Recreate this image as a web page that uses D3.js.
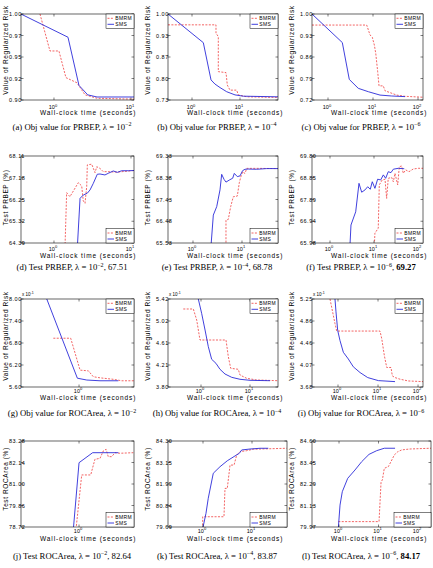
<!DOCTYPE html>
<html>
<head>
<meta charset="utf-8">
<script src="https://cdn.jsdelivr.net/npm/d3@7/dist/d3.min.js"></script>
<style>
body { margin: 0; background: #fff; }
svg { display: block; }
text { font-family: "Liberation Sans", Arial, sans-serif; fill: #000; }
.cap { font-family: "Liberation Serif", "Times New Roman", serif; }
</style>
</head>
<body>
<div id="chart"></div>
<script>
// ---- data: [time (s), value] ----
const smsA  = [[0.372,1.000],[1.52,0.973],[2.11,0.917],[2.74,0.906],[3.62,0.9035],[10.94,0.9035]];
const bmrmA = [[0.658,1.000],[0.887,0.957],[1.16,0.957],[1.43,0.926],[1.99,0.920],[2.53,0.906],[3.62,0.902],[10.94,0.901]];

const smsB  = [[0.316,1.000],[1.72,0.910],[2.49,0.793],[3.01,0.780],[3.83,0.769],[5.28,0.756],[7.87,0.746],[11.7,0.742],[61.9,0.740]];
const bmrmB = [[0.316,0.966],[3.16,0.966],[3.16,0.940],[3.53,0.929],[3.53,0.819],[5.11,0.816],[5.44,0.777],[6.19,0.761],[8.53,0.761],[9.22,0.746],[13.8,0.740],[61.9,0.738]];

const smsC  = [[0.441,1.000],[2.08,0.907],[2.97,0.787],[4.71,0.758],[7.87,0.747],[14.3,0.736],[26.0,0.733],[51.4,0.731]];
const bmrmC = [[0.441,0.964],[7.24,0.964],[8.58,0.932],[9.65,0.924],[10.7,0.899],[11.5,0.872],[12.7,0.812],[13.6,0.766],[16.9,0.766],[18.5,0.750],[23.9,0.744],[33.6,0.736],[51.4,0.732],[129,0.729]];

const smsD  = [[2.01,64.2],[2.18,66.30],[2.40,66.44],[2.71,66.52],[2.94,66.66],[3.24,66.94],[3.65,67.33],[3.96,67.34],[4.59,67.30],[5.07,67.37],[5.89,67.47],[6.64,67.41],[7.57,67.48],[9.22,67.48],[10.94,67.49]];
const bmrmD = [[1.39,64.2],[1.46,66.54],[1.61,66.37],[1.82,66.66],[2.07,66.97],[2.29,66.83],[2.40,66.19],[2.53,66.09],[2.66,66.80],[2.71,67.73],[3.09,67.76],[3.41,67.40],[3.59,67.65],[3.96,67.58],[4.37,67.44],[4.83,67.44],[6.64,67.42],[10.94,67.49]];

const smsE  = [[2.33,65.4],[2.60,66.75],[3.05,67.12],[3.56,67.85],[3.85,68.53],[4.30,68.31],[4.71,68.19],[5.51,68.28],[6.46,68.36],[6.97,68.57],[8.02,68.43],[9.10,68.46],[10.3,68.69],[11.5,68.75],[13.4,68.76],[19.9,68.75],[31.9,68.78],[54.3,68.78]];
const bmrmE = [[4.71,65.4],[4.71,66.53],[5.25,66.56],[5.88,67.12],[6.64,67.55],[8.02,67.58],[8.81,68.16],[9.40,68.40],[10.3,68.64],[11.5,68.57],[12.5,68.79],[14.6,68.79],[19.9,68.79],[54.3,68.78]];

const smsF  = [[2.85,65.9],[3.00,66.77],[3.84,67.35],[4.56,68.60],[5.25,68.21],[6.24,68.31],[7.19,68.45],[8.24,68.34],[9.15,68.67],[10.5,68.38],[12.1,68.78],[14.2,68.75],[16.3,68.97],[18.4,68.82],[21.1,69.11],[24.3,69.07],[27.5,69.22],[35.7,69.26],[48.8,69.24]];
const bmrmF = [[10.2,65.9],[10.5,66.41],[12.5,66.63],[13.2,68.53],[15.4,68.75],[17.8,68.78],[19.4,67.94],[21.1,68.82],[25.2,68.86],[27.5,68.67],[30.0,69.04],[34.6,68.53],[37.6,69.33],[42.6,69.36],[46.3,69.04],[52.5,69.19],[62.4,69.11],[78.2,69.23],[102,69.26],[130,69.26]];

const smsG  = [[0.395,8.00],[0.953,5.84],[1.25,5.79],[1.83,5.77],[3.10,5.77]];
const bmrmG = [[0.477,6.93],[0.787,6.93],[1.03,6.06],[1.31,6.04],[1.51,5.88],[1.83,5.85],[2.68,5.81],[3.42,5.77],[4.87,5.77]];

const smsH  = [[0.881,5.42],[1.03,5.157],[1.21,4.849],[1.41,4.542],[1.65,4.310],[2.02,4.236],[2.44,4.126],[3.09,4.039],[4.24,3.978],[6.25,3.942],[10.0,3.923],[25.6,3.916]];
const bmrmH = [[0.435,5.236],[0.697,5.236],[0.817,5.033],[0.954,4.665],[3.24,4.665],[3.61,4.358],[4.04,4.144],[5.77,4.126],[6.25,4.021],[8.57,3.960],[13.7,3.929],[37.3,3.916]];

const smsI  = [[0.841,5.25],[0.891,5.021],[0.982,4.691],[1.12,4.510],[1.36,4.299],[1.81,4.180],[2.41,4.041],[3.55,3.938],[5.53,3.848],[10.2,3.794],[26.6,3.776]];
const bmrmI = [[0.631,5.25],[0.841,4.811],[0.928,4.678],[11.2,4.678],[12.4,4.541],[14.4,4.239],[16.5,4.028],[21.1,4.028],[22.8,3.878],[26.6,3.848],[35.5,3.819],[57.2,3.788],[133,3.776]];

const smsJ  = [[0.849,78.6],[1.0,82.13],[1.48,82.66],[3.10,82.66]];
const bmrmJ = [[0.917,78.6],[1.08,81.48],[1.40,81.48],[1.58,82.31],[1.83,82.36],[2.01,82.75],[2.18,82.84],[2.32,82.45],[2.56,82.45],[2.82,82.66],[3.25,82.63],[4.77,82.66]];

const smsK  = [[0.986,79.6],[1.15,80.42],[1.28,81.23],[1.62,82.57],[2.22,82.92],[3.13,83.24],[4.50,83.50],[5.51,83.64],[6.17,83.82],[9.10,83.87],[14.6,83.91],[21.5,83.91]];
const bmrmK = [[0.986,79.6],[0.986,80.24],[2.68,80.24],[2.81,81.76],[3.13,81.76],[3.56,83.01],[4.30,83.01],[4.87,83.55],[5.69,83.73],[7.80,83.78],[10.6,83.86],[51.1,83.91]];

const smsL  = [[0.960,79.9],[1.06,81.15],[1.21,81.87],[1.66,82.59],[2.54,83.04],[3.76,83.49],[5.75,83.88],[9.00,84.08],[14.0,84.21],[26.2,84.21]];
const bmrmL = [[0.960,80.26],[10.3,80.26],[11.6,82.41],[12.5,82.50],[14.0,83.13],[17.7,83.22],[20.7,83.49],[25.1,83.85],[30.6,84.02],[38.6,84.12],[62.7,84.17],[213,84.21]];

// axis ranges and tick labels
const xDomains = [[0.373,10.94],[0.316,61.9],[0.441,129],[0.373,10.94],[0.309,54.3],[0.390,130],
                  [0.188,4.87],[0.212,37.3],[0.224,133],[0.188,4.87],[0.193,51.8],[0.207,213]];
const yDomains = [[0.90,1.00],[0.73,1.00],[0.72,1.00],[64.39,68.11],[65.53,69.33],[65.98,69.80],
                  [5.60,8.00],[3.80,5.42],[3.68,5.25],[78.72,83.28],[79.69,84.30],[79.97,84.60]];
const yTickLabels = [
  ["1.00","0.97","0.95","0.92","0.90"],
  ["1.00","0.93","0.87","0.80","0.73"],
  ["1.00","0.93","0.86","0.79","0.72"],
  ["68.11","67.18","66.25","65.32","64.39"],
  ["69.33","68.38","67.43","66.48","65.53"],
  ["69.80","68.85","67.89","66.94","65.98"],
  ["8.00","7.40","6.80","6.20","5.60"],
  ["5.42","5.02","4.61","4.21","3.80"],
  ["5.25","4.86","4.46","4.07","3.68"],
  ["83.28","82.14","81.00","79.86","78.72"],
  ["84.30","83.15","81.99","80.84","79.69"],
  ["84.60","83.45","82.29","81.13","79.97"]
];
const letters = ["a","b","c","d","e","f","g","h","i","j","k","l"];
const lambdaExp = ["−2","−4","−6"];
const captionText = ["Obj value for PRBEP","Test PRBEP","Obj value for ROCArea","Test ROCArea"];
const yTitles = ["Value of Regularized Risk","Test PRBEP (%)","Value of Regularized Risk","Test ROCArea (%)"];
const scores = [null, ["67.51","68.78","69.27"], null, ["82.64","83.87","84.17"]];
const seriesNames = ["BMRM","SMS"];
const smsData  = [smsA,smsB,smsC,smsD,smsE,smsF,smsG,smsH,smsI,smsJ,smsK,smsL];
const bmrmData = [bmrmA,bmrmB,bmrmC,bmrmD,bmrmE,bmrmF,bmrmG,bmrmH,bmrmI,bmrmJ,bmrmK,bmrmL];

// ---- layout ----
const colX = [[21,134],[168,278],[312,423]];
const lastRowX = [[21,134],[168,287],[312,431]];   // bottom row boxes are wider
const rowY = [[14,100],[156,243],[299,387],[441,527]];
const rowTickDy = [9, 7.5, 5.5, 5.5];
const rowLabelDy = [15, 14.5, 13, 13.5];
const rowCapDy = [29.5, 27, 29, 31.5];
const titleShift = [-7, -2, -7, -5];
const capCenter = [72, 217, 361];
const blue = "#2b2bd9", red = "#f03c3c";

const svg = d3.select("#chart").append("svg").attr("width", 433).attr("height", 568);

d3.range(12).forEach(i => {
  const row = Math.floor(i / 3), col = i % 3;
  const [x0, x1] = row === 3 ? lastRowX[col] : colX[col];
  const [y0, y1] = rowY[row];
  const g = svg.append("g");
  const x = d3.scaleLog().domain(xDomains[i]).range([x0, x1]);
  const y = d3.scaleLinear().domain(yDomains[i]).range([y1, y0]);

  const clipId = "clip" + i;
  svg.append("clipPath").attr("id", clipId)
    .append("rect").attr("x", x0).attr("y", y0).attr("width", x1 - x0).attr("height", y1 - y0);

  const line = d3.line().x(d => x(d[0])).y(d => y(d[1]));
  const lines = g.append("g").attr("clip-path", `url(#${clipId})`);
  lines.append("path").datum(bmrmData[i]).attr("d", line)
    .attr("fill", "none").attr("stroke", red).attr("stroke-width", 0.8).attr("stroke-dasharray", "2,1.4");
  lines.append("path").datum(smsData[i]).attr("d", line)
    .attr("fill", "none").attr("stroke", blue).attr("stroke-width", 0.9);

  g.append("rect").attr("x", x0).attr("y", y0).attr("width", x1 - x0).attr("height", y1 - y0)
    .attr("fill", "none").attr("stroke", "#000").attr("stroke-width", 0.6);

  // y ticks
  const [ymin, ymax] = yDomains[i];
  yTickLabels[i].forEach((lab, k) => {
    const py = y(ymax - k * (ymax - ymin) / 4);
    g.append("line").attr("x1", x0).attr("x2", x0 + 2.5).attr("y1", py).attr("y2", py)
      .attr("stroke", "#000").attr("stroke-width", 0.5);
    g.append("line").attr("x1", x1 - 2.5).attr("x2", x1).attr("y1", py).attr("y2", py)
      .attr("stroke", "#000").attr("stroke-width", 0.5);
    g.append("text").attr("x", x0 - 12).attr("y", py + 2)
      .attr("font-size", 5.5).attr("letter-spacing", 0.5).text(lab);
  });

  // x ticks (decades only)
  const decades = x.ticks().filter(t => Math.abs(Math.log10(t) - Math.round(Math.log10(t))) < 1e-9);
  decades.forEach(t => {
    const px = x(t);
    g.append("line").attr("x1", px).attr("x2", px).attr("y1", y1).attr("y2", y1 - 2.5)
      .attr("stroke", "#000").attr("stroke-width", 0.5);
    g.append("line").attr("x1", px).attr("x2", px).attr("y1", y0).attr("y2", y0 + 2.5)
      .attr("stroke", "#000").attr("stroke-width", 0.5);
    const tx = g.append("text").attr("x", px - 1).attr("y", y1 + rowTickDy[row])
      .attr("font-size", 5.5).attr("text-anchor", "middle");
    tx.append("tspan").text("10");
    tx.append("tspan").attr("dy", -2.5).attr("font-size", 4).text(Math.round(Math.log10(t)));
  });

  g.append("text").attr("x", x0 + 19).attr("y", y1 + rowLabelDy[row])
    .attr("font-size", 6.5).attr("letter-spacing", 0.9).text("Wall-clock time (seconds)");

  const ty = (y0 + y1) / 2 + titleShift[row];
  const tX = col === 0 ? x0 - 13 : x0 - 18;
  g.append("text").attr("transform", `translate(${tX},${ty}) rotate(-90)`)
    .attr("text-anchor", "middle").attr("font-size", 6.5).attr("letter-spacing", 0.6)
    .text(yTitles[row]);

  if (row === 2) {
    const ex = g.append("text").attr("x", x0 + 1).attr("y", y0 - 3.5).attr("font-size", 4.5);
    ex.append("tspan").text("x 10");
    ex.append("tspan").attr("dy", -2).attr("font-size", 3.5).text("-1");
  }

  // legend
  const lw = row === 3 && col > 0 ? 37 : 28, lh = 14.3;
  const lx = x1 - lw, ly = (row % 2 === 0) ? y0 : y1 - lh;
  g.append("rect").attr("x", lx).attr("y", ly).attr("width", lw).attr("height", lh)
    .attr("fill", "#fff").attr("stroke", "#000").attr("stroke-width", 0.5);
  seriesNames.forEach((name, k) => {
    const cy = ly + 4.3 + k * 6;
    g.append("line").attr("x1", lx + 1.5).attr("x2", lx + 8).attr("y1", cy).attr("y2", cy)
      .attr("stroke", k === 0 ? red : blue).attr("stroke-width", k === 0 ? 0.8 : 0.9)
      .attr("stroke-dasharray", k === 0 ? "2,1.4" : null);
    g.append("text").attr("x", lx + 9.3).attr("y", cy + 1.8)
      .attr("font-size", 5).attr("letter-spacing", 0.4).text(name);
  });

  // caption
  const cap = g.append("text").attr("class", "cap").attr("x", capCenter[col]).attr("y", y1 + rowCapDy[row])
    .attr("font-size", 8.7).attr("text-anchor", "middle");
  cap.append("tspan").text(`(${letters[i]}) ${captionText[row]}, λ = 10`);
  cap.append("tspan").attr("dy", -3.3).attr("font-size", 6).text(lambdaExp[col]);
  if (scores[row]) {
    cap.append("tspan").attr("dy", 3.3).text(", ");
    cap.append("tspan").attr("font-weight", col === 2 ? "bold" : null).text(scores[row][col]);
  }
});
</script>
</body>
</html>
